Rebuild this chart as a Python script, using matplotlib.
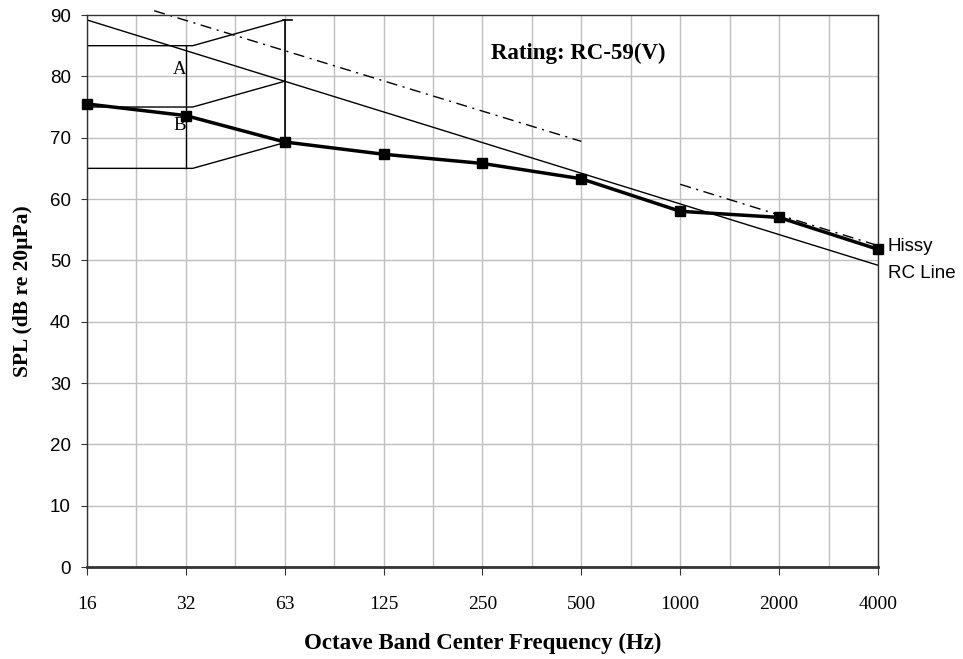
import numpy as np
import matplotlib.pyplot as plt

# octave band centres and measured levels
freqs = ['16', '32', '63', '125', '250', '500', '1000', '2000', '4000']
spl = [75.5, 73.6, 69.3, 67.3, 65.8, 63.3, 58.0, 57.0, 51.8]

# RC-59 reference line (-5 dB/octave)
rc_line = [89.2, 84.2, 79.2, 74.2, 69.2, 64.2, 59.2, 54.2, 49.2]

# dash-dot limits (rumble side and hiss side)
rumble_pos = [0.68, 5.0]
rumble_lvl = [90.7, 69.4]
hiss_pos = [6.0, 8.0]
hiss_lvl = [62.4, 52.4]

# low frequency regions A / B
box_levels = [85.0, 75.0, 65.0]
box_right = [89.2, 79.2, 69.2]

x = np.arange(len(freqs))

serif = ['Liberation Serif', 'DejaVu Serif']
sans = ['Liberation Sans', 'DejaVu Sans']

fig = plt.figure(figsize=(9.63, 6.59), dpi=100)
ax = fig.add_axes([0.0903, 0.1396, 0.8214, 0.8376])

# grid
for xv in np.arange(0, 8.01, 0.5):
    ax.axvline(xv, color='#c0c0c0', lw=1, zorder=0)
for yv in range(10, 90, 10):
    ax.axhline(yv, color='#c0c0c0', lw=1, zorder=0)

# RC line and tolerance lines
ax.plot(x, rc_line, color='black', lw=1, zorder=2)
ax.plot(rumble_pos, rumble_lvl, color='black', lw=1, ls=(0, (8, 4, 1.5, 4)),
        clip_on=False, zorder=2)
ax.plot(hiss_pos, hiss_lvl, color='black', lw=1, ls=(0, (8, 4, 1.5, 4)), zorder=2)

# regions A and B
for lvl, rlvl in zip(box_levels, box_right):
    ax.plot([0, 1.07, 2], [lvl, lvl, rlvl], color='black', lw=1, zorder=2)
ax.plot([1, 1], [box_levels[2], box_levels[0]], color='black', lw=1, zorder=2)
ax.plot([2, 2], [box_right[2], box_right[0]], color='black', lw=1.2, zorder=2)
ax.plot([1.98, 2.07], [box_right[0], box_right[0]], color='black', lw=1.2, zorder=2)

# measured spectrum
ax.plot(x, spl, color='black', lw=2.5, marker='s', markersize=6.5, zorder=3, clip_on=False)

ax.text(0.94, 81.1, 'A', fontsize=13.5, family=serif, ha='center', va='center')
ax.text(0.94, 72.0, 'B', fontsize=13.5, family=serif, ha='center', va='center')
ax.text(4.97, 83.8, 'Rating: RC-59(V)', fontsize=16.5, family=serif, fontweight='bold',
        ha='center', va='center')
ax.text(8.1, 52.2, 'Hissy', fontsize=13.5, family=sans, ha='left', va='center')
ax.text(8.1, 47.9, 'RC Line', fontsize=13.5, family=sans, ha='left', va='center')

ax.set_xlim(0, 8)
ax.set_ylim(0, 90)
ax.set_xticks(x)
ax.set_xticklabels(freqs, family=serif, fontsize=14)
ax.set_yticks(range(0, 91, 10))
ax.set_yticklabels([str(v) for v in range(0, 91, 10)], family=sans, fontsize=13.5)
ax.tick_params(axis='x', direction='out', length=6, pad=15, color='#333333')
ax.tick_params(axis='y', direction='out', length=4.5, pad=7, color='#333333')

for s in ['left', 'right', 'top']:
    ax.spines[s].set_color('#333333')
    ax.spines[s].set_linewidth(1)
ax.spines['bottom'].set_color('#333333')
ax.spines['bottom'].set_linewidth(2)

ax.set_xlabel('Octave Band Center Frequency (Hz)', family=serif, fontsize=16.5,
              fontweight='bold', labelpad=14)
ax.set_ylabel('SPL (dB re 20\u00b5Pa)', family=serif, fontsize=15.5,
              fontweight='bold', labelpad=12)

fig.savefig('out.png', dpi=100)
